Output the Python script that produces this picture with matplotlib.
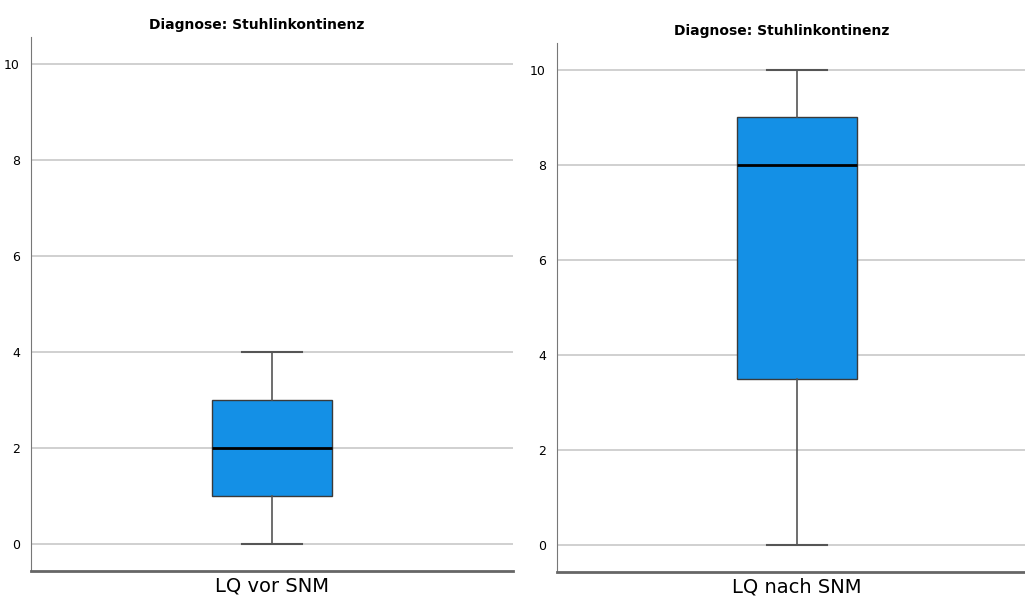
import matplotlib
matplotlib.use('Agg')
import matplotlib.pyplot as plt

# box statistics
titles = ["Diagnose: Stuhlinkontinenz", "Diagnose: Stuhlinkontinenz"]
labels = ["LQ vor SNM", "LQ nach SNM"]
whislo = [0, 0]
q1 = [1, 3.5]
med = [2, 8]
q3 = [3, 9]
whishi = [4, 10]
yticks = [0, 2, 4, 6, 8, 10]

fig = plt.figure(figsize=(10.25, 5.99), dpi=100)
rects = [[31/1025, 1-571/599, 482/1025, 534/599],
         [557/1025, 1-572/599, 480/1025, 529/599]]

for i, r in enumerate(rects):
    ax = fig.add_axes(r)
    stats = [dict(whislo=whislo[i], q1=q1[i], med=med[i], q3=q3[i],
                  whishi=whishi[i], fliers=[], label='')]
    ax.bxp(stats, positions=[0.5], widths=0.25, capwidths=0.125,
           patch_artist=True, showfliers=False,
           boxprops=dict(facecolor='#1490e6', edgecolor='#3a3a3a', linewidth=1),
           medianprops=dict(color='black', linewidth=2),
           whiskerprops=dict(color='#555555', linewidth=1.2),
           capprops=dict(color='#555555', linewidth=1.5), zorder=3)
    ax.set_xlim(0, 1)
    ax.set_ylim(-0.56, 10.56)
    ax.set_yticks(yticks)
    ax.set_xticks([])
    ax.grid(axis='y', color='#c8c8c8', linewidth=1.2, zorder=0)
    ax.set_axisbelow(True)
    ax.tick_params(axis='y', length=0, pad=8, labelsize=9)
    for s in ['top', 'right']:
        ax.spines[s].set_visible(False)
    ax.spines['left'].set_color('#777777')
    ax.spines['bottom'].set_color('#666666')
    ax.spines['bottom'].set_linewidth(2)
    ax.set_title(titles[i], fontsize=10, fontweight='bold', pad=6, x=0.469)
    ax.set_xlabel(labels[i], fontsize=14, labelpad=4)

fig.savefig('out.png', dpi=100)
